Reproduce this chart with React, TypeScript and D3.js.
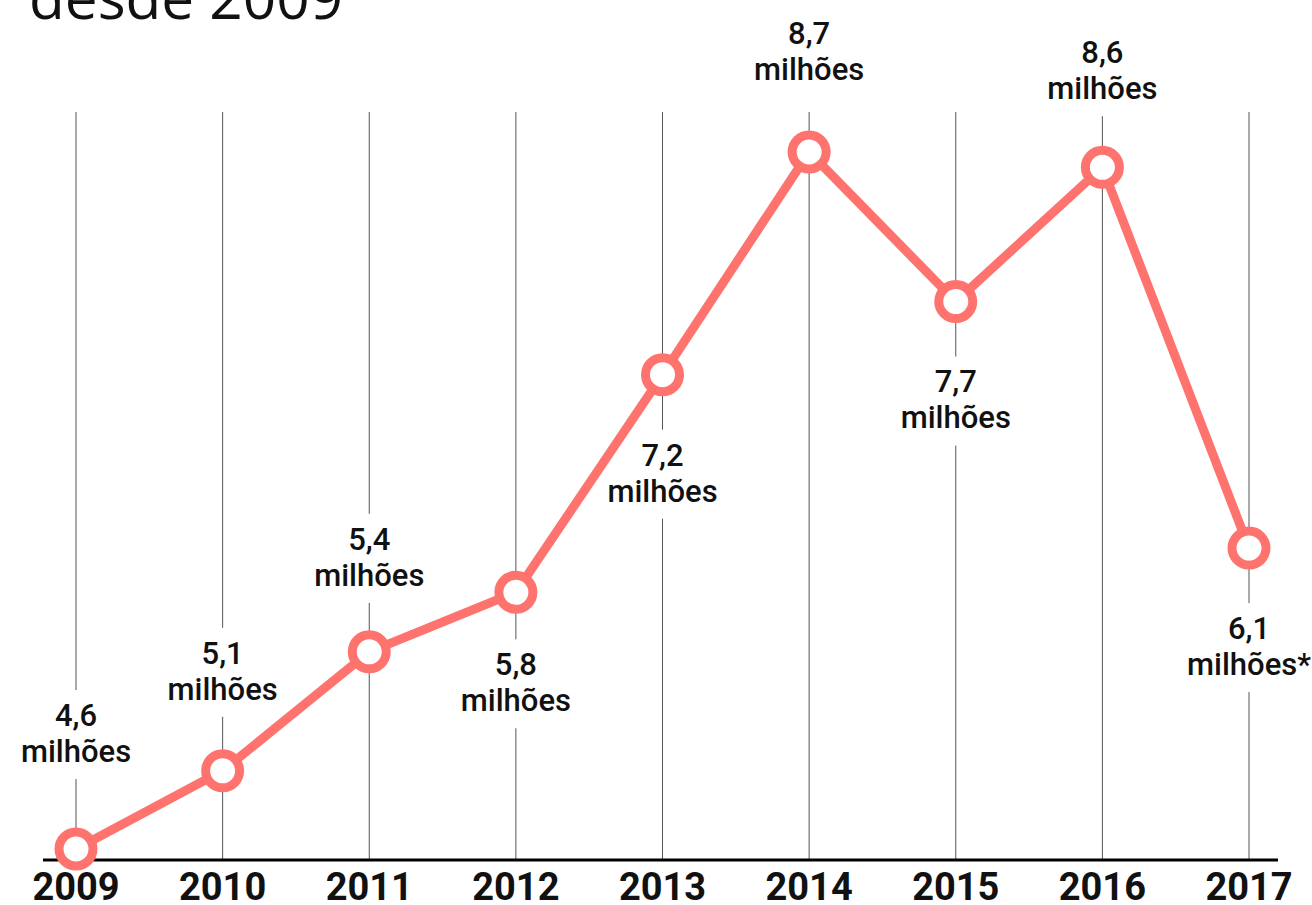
import React from "react";
import * as d3 from "d3";

const years = ["2009", "2010", "2011", "2012", "2013", "2014", "2015", "2016", "2017"];
// values as labelled in the chart (millions)
const labelValues = ["4,6", "5,1", "5,4", "5,8", "7,2", "8,7", "7,7", "8,6", "6,1"];
const labelSuffix = ["", "", "", "", "", "", "", "", "*"];
// vertical level of each point as drawn (millions)
const plotted = [4.6, 5.06, 5.76, 6.11, 7.39, 8.7, 7.82, 8.61, 6.37];
const placement = ["above", "above", "above", "below", "below", "above", "below", "above", "below"];
const labelShift = [-18, -2, 3, -8, 0, -3, 0, 1, 0];

const W = 1312;
const H = 905;
const RED = "#ff736e";

export default function App() {
  const x = d3.scalePoint<string>().domain(years).range([76, 1249]);
  const y = d3.scaleLinear().domain([4.6, 8.7]).range([849, 152]);
  const baseY = 860;
  const gridTop = 112;
  const lineGen = d3
    .line<number>()
    .x((_, i) => x(years[i]) as number)
    .y((d) => y(d));

  const labelFont = "Roboto, sans-serif";
  const gap = 36;
  const pos = (i: number) => {
    const py = y(plotted[i]);
    const off = 80;
    const l1 = placement[i] === "above" ? py - off - gap + labelShift[i] : py + off + labelShift[i];
    return [l1, l1 + gap];
  };

  return (
    <svg
      width={W}
      height={H}
      style={{ position: "absolute", left: 0, top: 0, background: "#fff" }}
    >
      <text x={29} y={19} fontFamily="'Open Sans', sans-serif" fontSize={58.5} fill="#111">
        desde 2009
      </text>
      {years.map((yr, i) => {
        const cx = x(yr) as number;
        const [l1, l2] = pos(i);
        const gapTop = l1 - 25;
        const gapBot = l2 + 28;
        const segs: [number, number][] = [];
        if (gapTop > gridTop) segs.push([gridTop, gapTop]);
        segs.push([Math.max(gridTop, gapBot), baseY]);
        return (
          <g key={yr}>
            {segs.map((s, k) => (
              <line key={k} x1={cx} x2={cx} y1={s[0]} y2={s[1]} stroke="#555" strokeWidth={1} />
            ))}
          </g>
        );
      })}
      <line x1={43} x2={1278} y1={baseY} y2={baseY} stroke="#000" strokeWidth={3} />
      <path d={lineGen(plotted) || ""} fill="none" stroke={RED} strokeWidth={9} strokeLinejoin="round" />
      {years.map((yr, i) => (
        <circle key={yr} cx={x(yr) as number} cy={y(plotted[i])} r={17} fill="#fff" stroke={RED} strokeWidth={9} />
      ))}
      {years.map((yr, i) => {
        const cx = x(yr) as number;
        const [l1, l2] = pos(i);
        return (
          <g key={yr} fontFamily={labelFont} fontWeight={500} fontSize={31} fill="#111" textAnchor="middle">
            <text x={cx} y={l1} dy="0.35em">{labelValues[i]}</text>
            <text x={cx} y={l2} dy="0.35em">{"milhões" + labelSuffix[i]}</text>
          </g>
        );
      })}
      {years.map((yr) => (
        <text
          key={yr}
          x={x(yr) as number}
          y={900}
          textAnchor="middle"
          fontFamily={labelFont}
          fontWeight={700}
          fontSize={38}
          fill="#111"
        >
          {yr}
        </text>
      ))}
    </svg>
  );
}
